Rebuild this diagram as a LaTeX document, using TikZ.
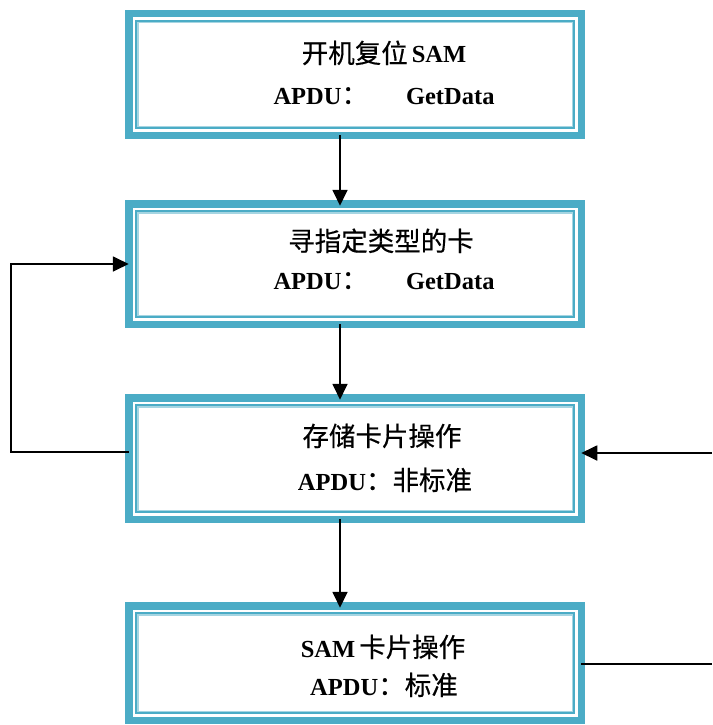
\documentclass[tikz,border=0pt]{standalone}
\usepackage{fontspec}
\setmainfont{Liberation Serif}
\newfontfamily\cjk[FakeBold=0.4]{Noto Sans CJK SC}
\usetikzlibrary{arrows.meta,calc}
\definecolor{teal1}{HTML}{4BACC6}
\definecolor{teal2}{HTML}{A5D5E2}
\newcommand{\zhtext}[1]{{\cjk\fontsize{26.5}{30}\selectfont\mdseries #1}}
\tikzset{
  boxnode/.style={draw=teal1, line width=7.5pt, minimum width=452.5pt, inner sep=0pt, outer sep=0pt},
  txt/.style={font=\fontsize{24.5}{28}\selectfont\bfseries, anchor=base, inner sep=0pt},
  arr/.style={line width=1.8pt, -{Triangle[width=15pt,length=16pt]}},
  plainline/.style={line width=1.8pt},
}
\begin{document}
\begin{tikzpicture}[x=1pt,y=-1pt]
\useasboundingbox (0,0) rectangle (712,725);
% boxes
\node[boxnode, minimum height=121.5pt] (b1) at (355,74.5) {};
\node[boxnode, minimum height=120.5pt] (b2) at (355,264) {};
\node[boxnode, minimum height=121.5pt] (b3) at (355,458.5) {};
\node[boxnode, minimum height=114.5pt] (b4) at (355,663) {};
\foreach \n in {b1,b2,b3,b4}{
  \draw[teal1, line width=2pt] ($(\n.north west)+(7.25,7.25)$) rectangle ($(\n.south east)+(-7.25,-7.25)$);
  \draw[teal2, line width=1.5pt] ($(\n.north west)+(9,9)$) rectangle ($(\n.south east)+(-9,-9)$);
}
% texts
\node[txt] (t1a) at (384,63) {\zhtext{开机复位}\hspace{4pt}SAM};
\node[txt] (t1b) at (384,104) {APDU\zhtext{：}\hspace{38pt}GetData};
\node[txt] (t2a) at (381,251) {\zhtext{寻指定类型的卡}};
\node[txt] (t2b) at (384,289) {APDU\zhtext{：}\hspace{38pt}GetData};
\node[txt] (t3a) at (382,446) {\zhtext{存储卡片操作}};
\node[txt] (t3b) at (385,490) {APDU\zhtext{：非标准}};
\node[txt] (t4a) at (383,657) {SAM\hspace{4pt}\zhtext{卡片操作}};
\node[txt] (t4b) at (384,695) {APDU\zhtext{：标准}};
% connectors
\coordinate (L) at (11,452);
\coordinate (R1) at (712,453);
\coordinate (R2) at (712,664);
\draw[arr] ([xshift=-15pt]b1.south) -- ([xshift=-15pt,yshift=-2pt]b2.north);
\draw[arr] ([xshift=-15pt]b2.south) -- ([xshift=-15pt,yshift=-2pt]b3.north);
\draw[arr] ([xshift=-15pt]b3.south) -- ([xshift=-15pt,yshift=-2pt]b4.north);
\draw[arr] (L -| b3.west) -- (L) |- (b2.west);
\draw[arr] (R1) -- (R1 -| b3.east);
\draw[plainline] (R2 -| b4.east) -- (R2);
\end{tikzpicture}
\end{document}
